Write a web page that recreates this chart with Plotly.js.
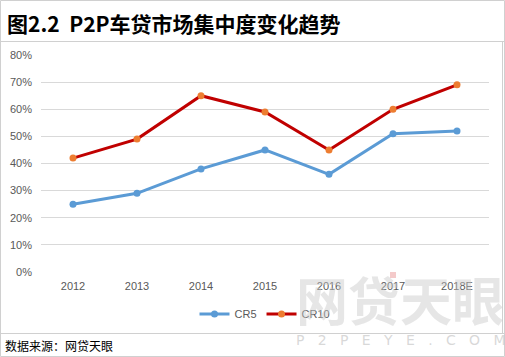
<!DOCTYPE html>
<html>
<head>
<meta charset="utf-8">
<script src="https://cdn.plot.ly/plotly-3.0.1.min.js"></script>
<style>html,body{margin:0;padding:0;background:#fff;}#chart{width:505px;height:357px;}</style>
</head>
<body>
<div id="chart"></div>
<script>
var years = ["2012", "2013", "2014", "2015", "2016", "2017", "2018E"];
var cr5 = [0.25, 0.29, 0.38, 0.45, 0.36, 0.51, 0.52];
var cr10 = [0.42, 0.49, 0.65, 0.59, 0.45, 0.60, 0.69];
var yTicks = [0, 0.1, 0.2, 0.3, 0.4, 0.5, 0.6, 0.7, 0.8];
var yTickText = ["0%", "10%", "20%", "30%", "40%", "50%", "60%", "70%", "80%"];

var font = "Liberation Sans, Open Sans, sans-serif";
var traces = [
  {x: years, y: cr5, name: "CR5", type: "scatter", mode: "lines+markers",
   line: {color: "#5b9bd5", width: 3}, marker: {color: "#5b9bd5", size: 7}},
  {x: years, y: cr10, name: "CR10", type: "scatter", mode: "lines+markers",
   line: {color: "#c00000", width: 3}, marker: {color: "#ed7d31", size: 7}}
];
var W = 505, H = 357;
var L = 41, R = 489, T = 55, B = 272;
function px(x){return (x - L) / (R - L);}
function py(y){return (B - y) / (B - T);}
var layout = {
  width: W, height: H,
  margin: {l: L, r: W - R, t: T, b: H - B},
  paper_bgcolor: "#fff", plot_bgcolor: "#fff",
  showlegend: true,
  legend: {orientation: "h", x: 0.5, xanchor: "center", xref: "paper", y: 1 - 314 / H, yref: "container", yanchor: "middle",
           font: {family: font, size: 11, color: "#595959"}, traceorder: "normal"},
  xaxis: {type: "category", range: [-0.5, 6.5], showgrid: false, zeroline: false, showline: false,
          ticks: "", ticklabelstandoff: 6, tickfont: {family: font, size: 11, color: "#595959"}, fixedrange: true},
  yaxis: {range: [0, 0.8], tickvals: yTicks, ticktext: yTickText, showgrid: true, gridcolor: "#d9d9d9",
          gridwidth: 1, zeroline: false, showline: false, ticks: "", ticklabelstandoff: 8,
          tickfont: {family: font, size: 11, color: "#595959"}, fixedrange: true},
  shapes: [
    {type: "rect", xref: "paper", yref: "paper", x0: px(0.5), x1: px(504.5), y0: py(356.5), y1: py(0.5),
     line: {color: "#d0d0d0", width: 1}, layer: "below"},
    {type: "line", xref: "paper", yref: "paper", x0: px(0), x1: px(505), y0: py(41.5), y1: py(41.5),
     line: {color: "#d0d0d0", width: 1}},
    {type: "line", xref: "paper", yref: "paper", x0: px(0), x1: px(505), y0: py(333.5), y1: py(333.5),
     line: {color: "#d0d0d0", width: 1}},
    {type: "line", xref: "paper", yref: "paper", x0: px(502.5), x1: px(502.5), y0: py(41), y1: py(333),
     line: {color: "#d0d0d0", width: 1}},
    {type: "rect", xref: "paper", yref: "paper", x0: px(390), x1: px(396), y0: py(278), y1: py(272),
     fillcolor: "#f4caca", line: {width: 0}, layer: "below"}
  ],
  annotations: [
    {text: "<b>图2.2  P2P车贷市场集中度变化趋势</b>", xref: "paper", yref: "paper", x: px(5), y: py(23),
     xanchor: "left", yanchor: "middle", showarrow: false,
     font: {family: "Noto Sans CJK SC", size: 21, color: "#000"}},
    {text: "数据来源：网贷天眼", xref: "paper", yref: "paper", x: px(3), y: py(345),
     xanchor: "left", yanchor: "middle", showarrow: false,
     font: {family: "Noto Sans CJK SC", size: 12, color: "#000"}},
    {text: "<b>网贷天眼</b>", xref: "paper", yref: "paper", x: px(400), y: py(298),
     xanchor: "center", yanchor: "middle", showarrow: false,
     font: {family: "Noto Sans CJK SC", size: 52, color: "rgba(200,200,200,0.45)"}},
    {text: "P   2   P   E   Y   E   .   C   O   M", xref: "paper", yref: "paper", x: px(401), y: py(340),
     xanchor: "center", yanchor: "middle", showarrow: false,
     font: {family: "DejaVu Sans", size: 14, color: "rgba(190,190,190,0.6)"}}
  ]
};
Plotly.newPlot("chart", traces, layout, {displayModeBar: false, staticPlot: true});
</script>
</body>
</html>
